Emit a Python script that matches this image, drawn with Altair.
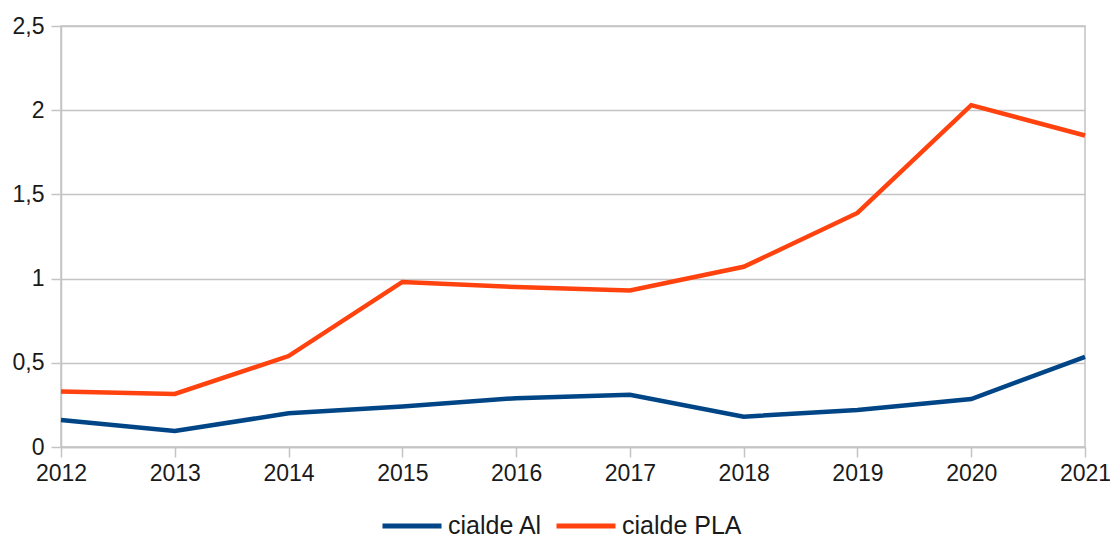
import altair as alt
import pandas as pd

years = [2012, 2013, 2014, 2015, 2016, 2017, 2018, 2019, 2020, 2021]
cialde_al = [0.16, 0.095, 0.20, 0.24, 0.29, 0.31, 0.18, 0.22, 0.285, 0.535]
cialde_pla = [0.33, 0.315, 0.54, 0.98, 0.95, 0.93, 1.07, 1.39, 2.03, 1.85]
series_names = ["cialde Al", "cialde PLA"]
series_colors = ["#004586", "#ff420e"]
y_ticks = [0, 0.5, 1, 1.5, 2, 2.5]

rows = []
for name, vals in zip(series_names, [cialde_al, cialde_pla]):
    for yr, v in zip(years, vals):
        rows.append({"year": yr, "value": v, "series": name})
df = pd.DataFrame(rows)

FONT = "Liberation Sans"
TXT = "#1a1a1a"
GRID = "#c4c4c4"
FS = 23

chart = alt.Chart(df).mark_line(strokeWidth=4.5, strokeJoin="miter").encode(
    x=alt.X("year:Q",
            scale=alt.Scale(domain=[2012, 2021], nice=False, zero=False),
            axis=alt.Axis(values=years, format="d", title=None, grid=False,
                          tickSize=10, tickColor=GRID, domainColor=GRID,
                          labelFontSize=FS, labelFont=FONT, labelColor=TXT,
                          labelPadding=5, labelFlush=False, domainWidth=1.5, tickWidth=1.5)),
    y=alt.Y("value:Q",
            scale=alt.Scale(domain=[0, 2.5], nice=False),
            axis=alt.Axis(values=y_ticks, title=None, grid=True, gridColor=GRID,
                          gridWidth=1.5,
                          labelExpr="replace(format(datum.value, ''), '.', ',')",
                          tickSize=10, tickColor=GRID, domainColor=GRID,
                          labelFontSize=FS, labelFont=FONT, labelColor=TXT,
                          labelPadding=7, domainWidth=1.5, tickWidth=1.5)),
    color=alt.Color("series:N",
                    scale=alt.Scale(domain=series_names, range=series_colors),
                    legend=alt.Legend(orient="none", legendX=319, legendY=468,
                                      direction="horizontal", title=None,
                                      symbolType="stroke", symbolSize=3481,
                                      symbolStrokeWidth=5, labelFontSize=25,
                                      labelFont=FONT, labelColor=TXT,
                                      labelOffset=4, columnPadding=3)),
).properties(
    width=1024, height=421,
    autosize=alt.AutoSizeParams(type="none"),
    padding={"left": 53, "top": 18, "right": 25, "bottom": 95},
).configure_view(stroke=GRID, strokeWidth=1.5)

chart.save("out.html", embed_options={"renderer": "svg", "actions": False})
